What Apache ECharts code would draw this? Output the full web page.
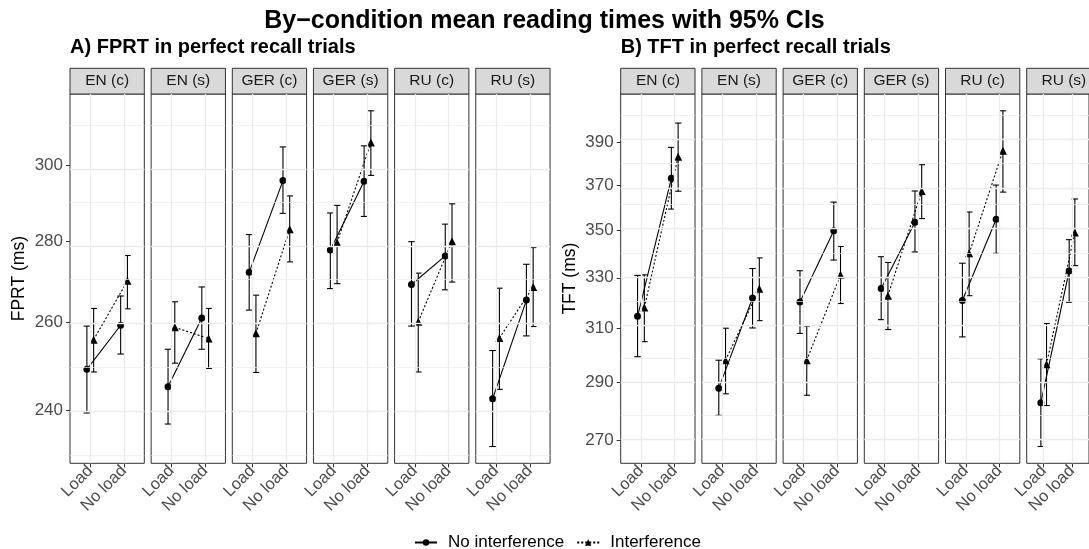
<!DOCTYPE html>
<html>
<head>
<meta charset="utf-8">
<script src="https://cdn.jsdelivr.net/npm/echarts@6/dist/echarts.min.js"></script>
<style>
html,body{margin:0;padding:0;background:#fff;}
#chart{width:1089px;height:549px;}
</style>
</head>
<body>
<div id="chart"></div>
<script>
// ---------------- DATA ----------------
const facets = ['EN (c)', 'EN (s)', 'GER (c)', 'GER (s)', 'RU (c)', 'RU (s)'];
const loadLevels = ['Load', 'No load'];
const seriesNames = ['No interference', 'Interference'];

// Panel A: FPRT (ms), per facet [Load, No load]
const fprtNoInt   = [[249.2, 259.4], [245.3, 261.1], [272.2, 295.9], [277.8, 295.7], [269.2, 276.3], [242.6, 265.4]];
const fprtNoIntLo = [[239.5, 252.7], [237.1, 253.8], [263.0, 287.2], [268.2, 286.4], [259.2, 267.9], [232.3, 256.9]];
const fprtNoIntHi = [[259.2, 266.4], [253.8, 268.6], [281.7, 305.1], [287.3, 305.4], [279.9, 284.4], [253.5, 274.2]];
const fprtInt     = [[256.0, 270.1], [258.9, 256.3], [257.5, 283.1], [279.7, 306.3], [260.2, 280.0], [256.4, 268.6]];
const fprtIntLo   = [[248.6, 263.3], [250.6, 249.4], [248.5, 274.8], [269.4, 297.3], [248.6, 269.8], [244.7, 259.1]];
const fprtIntHi   = [[263.4, 276.4], [265.0, 263.4], [266.6, 291.8], [289.3, 315.3], [272.0, 289.7], [268.3, 278.4]];

// Panel B: TFT (ms), per facet [Load, No load]
const tftNoInt   = [[314.7, 373.1], [288.0, 321.9], [320.3, 349.7], [325.7, 353.4], [320.9, 354.7], [282.9, 332.8]];
const tftNoIntLo = [[299.4, 359.2], [278.5, 310.2], [308.1, 337.3], [313.4, 340.7], [306.8, 340.1], [268.0, 320.2]];
const tftNoIntHi = [[331.0, 387.6], [298.1, 333.8], [332.9, 362.3], [338.7, 367.3], [336.0, 370.0], [298.6, 345.9]];
const tftInt     = [[318.1, 383.1], [298.1, 325.6], [298.1, 331.2], [322.8, 367.3], [340.1, 386.0], [296.6, 349.0]];
const tftIntLo   = [[305.0, 367.2], [286.0, 313.0], [285.5, 319.7], [309.6, 355.0], [322.8, 366.8], [281.9, 335.0]];
const tftIntHi   = [[331.2, 399.4], [310.1, 338.2], [310.9, 343.0], [336.3, 379.4], [357.9, 405.5], [311.9, 363.7]];

const fprtTicks = [240, 260, 280, 300];
const tftTicks  = [270, 290, 310, 330, 350, 370, 390];

const mainTitle = 'By\u2212condition mean reading times with 95% CIs';
const titleA = 'A) FPRT in perfect recall trials';
const titleB = 'B) TFT in perfect recall trials';
const yNameA = 'FPRT (ms)';
const yNameB = 'TFT (ms)';

// ---------------- LAYOUT ----------------
const FONT = '"Liberation Sans", Arial, Helvetica, sans-serif';
const panels = [
  { left0: 70.0, step: 81.15, ticks: fprtTicks, yName: yNameA, title: titleA,
    noInt: fprtNoInt, noIntLo: fprtNoIntLo, noIntHi: fprtNoIntHi,
    int: fprtInt, intLo: fprtIntLo, intHi: fprtIntHi },
  { left0: 620.7, step: 81.2, ticks: tftTicks, yName: yNameB, title: titleB,
    noInt: tftNoInt, noIntLo: tftNoIntLo, noIntHi: tftNoIntHi,
    int: tftInt, intLo: tftIntLo, intHi: tftIntHi }
];
const GRID_TOP = 94, GRID_H = 369.3, GRID_W = 74.3, STRIP_H = 25.7;
const DODGE = 0.1;

function minorBreaks(ticks) {
  const t = ticks.map(Math.log);
  const d = t[1] - t[0];
  const ext = [t[0] - d].concat(t, [t[t.length - 1] + d]);
  const out = [];
  for (let i = 0; i < ext.length - 1; i++) out.push((ext[i] + ext[i + 1]) / 2);
  return out;
}

const grids = [], xAxes = [], yAxes = [], series = [], graphics = [], titles = [];

titles.push({ text: mainTitle, left: 'center', top: 4,
  textStyle: { fontFamily: FONT, fontSize: 25, fontWeight: 'bold', color: '#000' } });

let gi = 0;
panels.forEach((p, pi) => {
  const allLo = [].concat(...p.noIntLo, ...p.intLo).map(Math.log);
  const allHi = [].concat(...p.noIntHi, ...p.intHi).map(Math.log);
  const lo = Math.min(...allLo), hi = Math.max(...allHi);
  const pad = (hi - lo) * 0.05;
  const yMin = lo - pad, yMax = hi + pad;
  const tickLn = p.ticks.map(Math.log);
  const minor = minorBreaks(p.ticks).filter(v => v > yMin && v < yMax);

  titles.push({ text: p.title, left: p.left0, top: 37, padding: 0,
    textStyle: { fontFamily: FONT, fontSize: 20, fontWeight: 'bold', color: '#000' } });

  facets.forEach((f, fi) => {
    const left = p.left0 + fi * p.step;
    grids.push({ left: left, top: GRID_TOP, width: GRID_W, height: GRID_H,
      show: true, borderColor: '#333333', borderWidth: 1, backgroundColor: '#fff', containLabel: false });
    xAxes.push({ type: 'value', gridIndex: gi, min: -0.6, max: 1.6,
      axisLine: { show: false, onZero: false }, splitLine: { show: false },
      axisTick: { show: true, customValues: [0, 1], length: 4, lineStyle: { color: '#333333' } },
      axisLabel: { show: true, customValues: [0, 1], rotate: 45, margin: 5,
        formatter: v => loadLevels[Math.round(v)],
        fontFamily: FONT, fontSize: 16.5, color: '#4D4D4D' } });
    yAxes.push({ type: 'value', gridIndex: gi, min: yMin, max: yMax,
      name: fi === 0 ? p.yName : '', nameLocation: 'middle', nameGap: 42, nameRotate: 90,
      nameTextStyle: { fontFamily: FONT, fontSize: 17.5, color: '#000' },
      axisLine: { show: false, onZero: false }, splitLine: { show: false },
      axisTick: { show: fi === 0, customValues: tickLn, length: 4, lineStyle: { color: '#333333' } },
      axisLabel: { show: fi === 0, customValues: tickLn, margin: 7,
        formatter: v => String(Math.round(Math.exp(v))),
        fontFamily: FONT, fontSize: 17, color: '#4D4D4D' } });

    // grid lines (minor thinner, major)
    const mlData = [];
    minor.forEach(v => mlData.push({ yAxis: v, lineStyle: { color: '#EBEBEB', width: 0.7, type: 'solid' } }));
    tickLn.forEach(v => mlData.push({ yAxis: v, lineStyle: { color: '#EBEBEB', width: 1.3, type: 'solid' } }));
    [0, 1].forEach(v => mlData.push({ xAxis: v, lineStyle: { color: '#EBEBEB', width: 1.3, type: 'solid' } }));
    series.push({ type: 'line', name: 'grid', xAxisIndex: gi, yAxisIndex: gi, data: [], z: 1,
      silent: true, markLine: { silent: true, symbol: 'none', label: { show: false }, animation: false, data: mlData } });

    // error bars
    const eb = (offset, lowArr, highArr, name) => ({
      type: 'custom', name: name, xAxisIndex: gi, yAxisIndex: gi, z: 3, silent: true,
      encode: { x: 0, y: [1, 2] },
      data: [0, 1].map(k => [k + offset, Math.log(lowArr[fi][k]), Math.log(highArr[fi][k])]),
      renderItem: (params, api) => {
        const x = api.value(0);
        const a = api.coord([x, api.value(1)]);
        const b = api.coord([x, api.value(2)]);
        const w = 3.3;
        const st = { stroke: '#000', lineWidth: 1.1, fill: null };
        return { type: 'group', children: [
          { type: 'line', shape: { x1: a[0], y1: a[1], x2: b[0], y2: b[1] }, style: st },
          { type: 'line', shape: { x1: a[0] - w, y1: a[1], x2: a[0] + w, y2: a[1] }, style: st },
          { type: 'line', shape: { x1: b[0] - w, y1: b[1], x2: b[0] + w, y2: b[1] }, style: st }
        ] };
      }
    });
    series.push(eb(-DODGE, p.noIntLo, p.noIntHi, 'ci-no'));
    series.push(eb(DODGE, p.intLo, p.intHi, 'ci-int'));

    series.push({ type: 'line', name: seriesNames[0], xAxisIndex: gi, yAxisIndex: gi, z: 4,
      data: [0, 1].map(k => [k - DODGE, Math.log(p.noInt[fi][k])]),
      symbol: 'circle', symbolSize: 7, showSymbol: true,
      itemStyle: { color: '#000' }, lineStyle: { color: '#000', width: 1.1, type: 'solid' },
      animation: false, silent: true });
    series.push({ type: 'line', name: seriesNames[1], xAxisIndex: gi, yAxisIndex: gi, z: 4,
      data: [0, 1].map(k => [k + DODGE, Math.log(p.int[fi][k])]),
      symbol: 'triangle', symbolSize: 8, showSymbol: true,
      itemStyle: { color: '#000' }, lineStyle: { color: '#000', width: 1.1, type: [2, 2] },
      animation: false, silent: true });

    // strip
    graphics.push({ type: 'rect', shape: { x: left, y: GRID_TOP - STRIP_H, width: GRID_W, height: STRIP_H },
      style: { fill: '#D9D9D9', stroke: '#333333', lineWidth: 1 }, silent: true });
    graphics.push({ type: 'text', x: left + GRID_W / 2, y: GRID_TOP - STRIP_H / 2,
      style: { text: f, fill: '#1A1A1A', font: '15.5px ' + FONT, align: 'center', verticalAlign: 'middle' }, silent: true });
    gi++;
  });
});

const chart = echarts.init(document.getElementById('chart'), null, { renderer: 'canvas' });
chart.setOption({
  animation: false,
  backgroundColor: '#fff',
  title: titles,
  grid: grids,
  xAxis: xAxes,
  yAxis: yAxes,
  series: series,
  graphic: graphics,
  legend: { data: seriesNames, top: 529, left: 409, itemWidth: 22, itemHeight: 8, itemGap: 12,
    textStyle: { fontFamily: FONT, fontSize: 17, color: '#000', padding: [0, 0, 0, 6] } }
});
</script>
</body>
</html>
